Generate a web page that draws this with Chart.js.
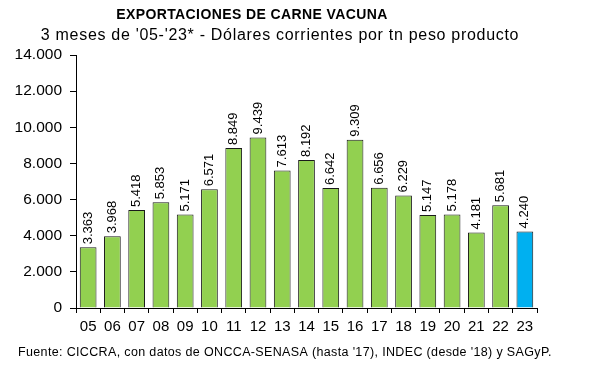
<!DOCTYPE html>
<html>
<head>
<meta charset="utf-8">
<script src="https://cdn.jsdelivr.net/npm/chart.js@4/dist/chart.umd.min.js"></script>
<style>
html,body{margin:0;padding:0;background:#fff;}
#wrap{width:600px;height:373px;position:relative;}
</style>
</head>
<body>
<div id="wrap"><canvas id="c" width="600" height="373"></canvas></div>
<script>
const categories = ['05','06','07','08','09','10','11','12','13','14','15','16','17','18','19','20','21','22','23'];
const values = [3363,3968,5418,5853,5171,6571,8849,9439,7613,8192,6642,9309,6656,6229,5147,5178,4181,5681,4240];
const yTicks = [0,2000,4000,6000,8000,10000,12000,14000];
const titleText = 'EXPORTACIONES DE CARNE VACUNA';
const subtitleText = "3 meses de '05-'23* - Dólares corrientes por tn peso producto";
const footerText = "Fuente: CICCRA, con datos de ONCCA-SENASA (hasta '17), INDEC (desde '18) y SAGyP.";

const FONT = '"Liberation Sans", Arial, sans-serif';
const fmt = v => String(v).replace(/\B(?=(\d{3})+(?!\d))/g, '.');
const colors = values.map((v,i) => i === values.length-1 ? '#00B0F0' : '#92D050');

const textPlugin = {
  id: 'texts',
  afterDraw(chart) {
    const ctx = chart.ctx;
    ctx.save();
    ctx.fillStyle = '#000';
    ctx.textBaseline = 'middle';
    ctx.textAlign = 'center';
    ctx.font = 'bold 14px ' + FONT;
    ctx.letterSpacing = '0.4px';
    ctx.fillText(titleText, 252, 15);
    ctx.font = '16px ' + FONT;
    ctx.letterSpacing = '0.7px';
    ctx.fillText(subtitleText, 280, 36);
    ctx.textAlign = 'left';
    ctx.font = '12.5px ' + FONT;
    ctx.letterSpacing = '0.35px';
    ctx.fillText(footerText, 18, 353);
    ctx.letterSpacing = '0px';
    ctx.restore();
  }
};

const labelPlugin = {
  id: 'barLabels',
  afterDatasetsDraw(chart) {
    const ctx = chart.ctx;
    const meta = chart.getDatasetMeta(0);
    ctx.save();
    ctx.fillStyle = '#000';
    ctx.font = '13px ' + FONT;
    ctx.textAlign = 'left';
    ctx.textBaseline = 'middle';
    meta.data.forEach((bar, i) => {
      ctx.save();
      ctx.translate(bar.x, bar.y - 3);
      ctx.rotate(-Math.PI/2);
      ctx.fillText(fmt(values[i]), 0, 0);
      ctx.restore();
    });
    ctx.restore();
  }
};

new Chart(document.getElementById('c'), {
  type: 'bar',
  data: {
    labels: categories,
    datasets: [{
      data: values,
      backgroundColor: colors,
      borderColor: '#1a1a1a',
      borderWidth: 1,
      categoryPercentage: 1,
      barPercentage: 0.69
    }]
  },
  options: {
    responsive: false,
    animation: false,
    layout: { padding: { left: 0, right: 63, top: 55, bottom: 35 } },
    plugins: { legend: { display: false }, tooltip: { enabled: false }, title: { display: false } },
    scales: {
      x: {
        offset: true,
        grid: { offset: true, drawOnChartArea: false, drawTicks: true, tickLength: 5, color: '#000' },
        border: { color: '#000', width: 1 },
        ticks: { color: '#000', font: { family: FONT, size: 15 }, padding: 5, maxRotation: 0, autoSkip: false },
        afterFit(s) { s.height = 30; }
      },
      y: {
        min: 0, max: 14000,
        afterBuildTicks(s) { s.ticks = yTicks.map(v => ({ value: v })); },
        grid: { drawOnChartArea: false, drawTicks: true, tickLength: 6, color: '#000' },
        border: { color: '#000', width: 1 },
        ticks: { color: '#000', font: { family: FONT, size: 15.5 }, padding: 8, callback: v => fmt(v) },
        afterFit(s) { s.width = 76; }
      }
    }
  },
  plugins: [labelPlugin, textPlugin]
});
</script>
</body>
</html>
